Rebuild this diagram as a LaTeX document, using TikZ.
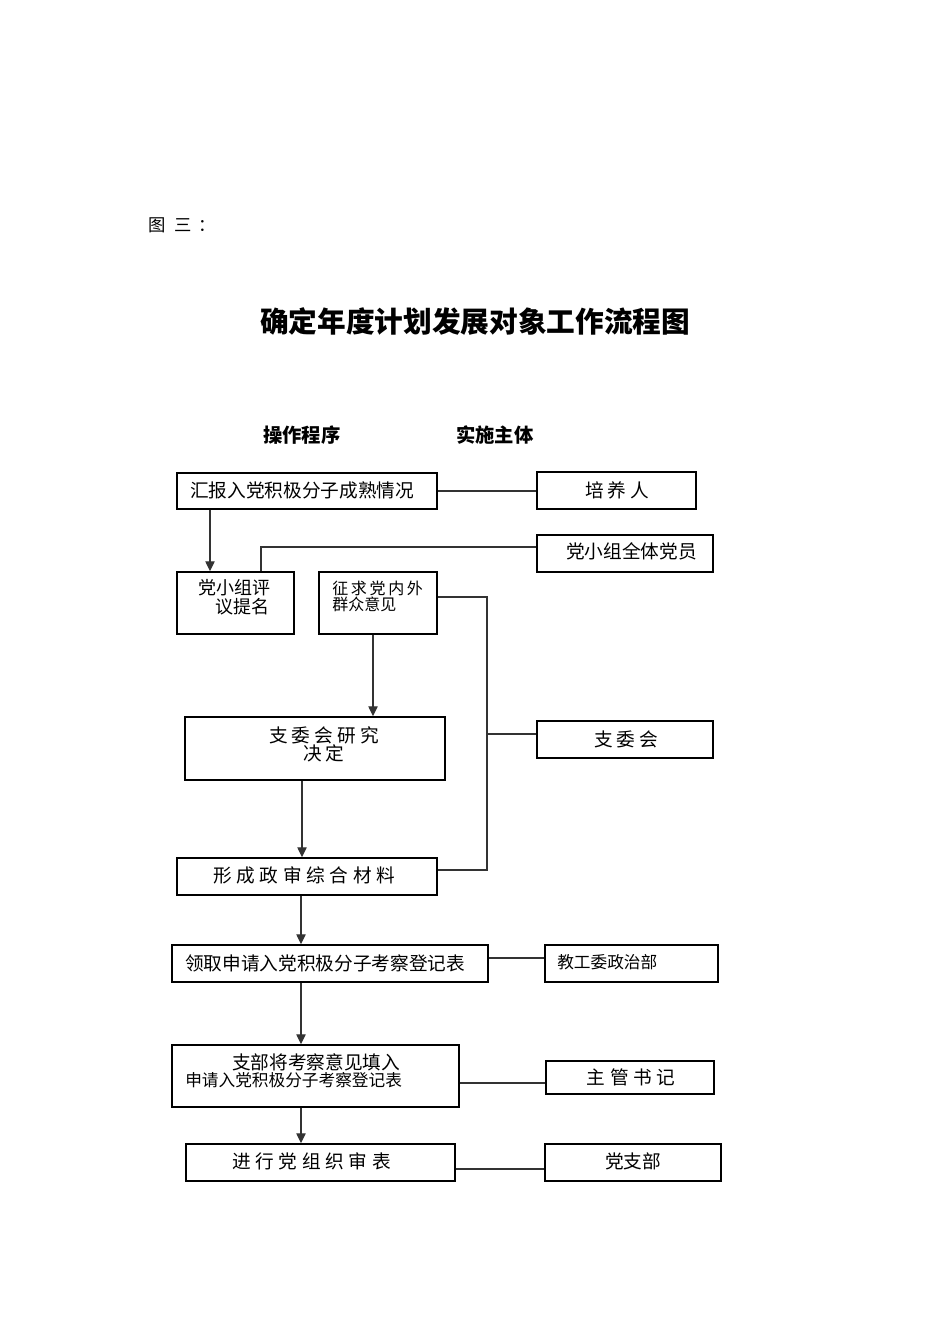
\documentclass[tikz,border=0pt]{standalone}
\usepackage{fontspec}
\setmainfont{Noto Sans CJK SC}
\usetikzlibrary{arrows.meta,fit}
\newcommand\gp{\hspace{3pt}}
\newcommand\gq{\hspace{3.5pt}}
\begin{document}
\begin{tikzpicture}[x=0.75pt,y=-0.75pt,
  box/.style={draw=black,line width=1.1pt,inner sep=0pt},
  txt/.style={inner sep=0pt,anchor=west,font=\fontsize{14}{16}\selectfont},
  ctxt/.style={txt,anchor=center},
  stxt/.style={txt,font=\fontsize{12.5}{14}\selectfont},
  ln/.style={draw=black!80,line width=1pt},
  arr/.style={ln,-{Triangle[length=7.5pt,width=7pt]}}]
\useasboundingbox (0,0) rectangle (950,1344);

% headings
\node[txt,font=\fontsize{13}{15}\selectfont] (fig) at (148,225) {图\hspace{6.5pt}三\hspace{5pt}：};
\node[ctxt,font=\fontsize{21.5}{24}\selectfont\bfseries] (title) at (475,322) {确定年度计划发展对象工作流程图};
\node[txt,font=\fontsize{14.5}{16}\selectfont\bfseries] (h1) at (263,435) {操作程序};
\node[txt,font=\fontsize{14.5}{16}\selectfont\bfseries] (h2) at (456,435) {实施主体};

% boxes
\node[box,fit={(177,473)(437,509)}] (b1) {};
\node[box,fit={(537,472)(696,509)}] (b2) {};
\node[box,fit={(537,535)(713,572)}] (b3) {};
\node[box,fit={(177,572)(294,634)}] (b4) {};
\node[box,fit={(319,572)(437,634)}] (b5) {};
\node[box,fit={(185,717)(445,780)}] (b6) {};
\node[box,fit={(537,721)(713,758)}] (b7) {};
\node[box,fit={(177,858)(437,895)}] (b8) {};
\node[box,fit={(172,945)(488,982)}] (b9) {};
\node[box,fit={(545,945)(718,982)}] (b10) {};
\node[box,fit={(172,1045)(459,1107)}] (b11) {};
\node[box,fit={(546,1061)(714,1094)}] (b12) {};
\node[box,fit={(186,1144)(455,1181)}] (b13) {};
\node[box,fit={(545,1144)(721,1181)}] (b14) {};

% texts
\node[txt] (t1) at (190,490) {汇报入党积极分子成熟情况};
\node[ctxt] (t2) at (617,490) {培\gp 养\gp 人};
\node[txt] (t3) at (566,551) {党小组全体党员};
\node[txt,font=\fontsize{13.5}{15}\selectfont] (t4a) at (198,588) {党小组评};
\node[txt,font=\fontsize{13.5}{15}\selectfont] (t4b) at (215,607) {议提名};
\node[txt,font=\fontsize{12}{14}\selectfont] (t5a) at (332,588) {征\hspace{2pt}求\hspace{2pt}党\hspace{2pt}内\hspace{2pt}外};
\node[txt,font=\fontsize{12}{14}\selectfont] (t5b) at (332,604) {群众意见};
\node[ctxt] (t6a) at (324,735) {支\gp 委\gp 会\gp 研\gp 究};
\node[ctxt] (t6b) at (324,753) {决\gp 定};
\node[ctxt] (t7) at (626,739) {支\gp 委\gp 会};
\node[txt] (t8) at (213,875) {形\gq 成\gq 政\gq 审\gq 综\gq 合\gq 材\gq 料};
\node[txt] (t9) at (185,963) {领取申请入党积极分子考察登记表};
\node[stxt] (t10) at (557,962) {教工委政治部};
\node[txt] (t11a) at (232,1062) {支部将考察意见填入};
\node[stxt] (t11b) at (185,1080) {申请入党积极分子考察登记表};
\node[ctxt] (t12) at (631,1077) {主\gq 管\gq 书\gq 记};
\node[txt] (t13) at (232,1161) {进\gq 行\gq 党\gq 组\gq 织\gq 审\gq 表};
\node[ctxt] (t14) at (633,1161) {党支部};

% helper coordinates
\coordinate (xa) at (210,0);
\coordinate (xb) at (261,0);
\coordinate (xc) at (373,0);
\coordinate (xd) at (487,0);
\coordinate (xe) at (302,0);
\coordinate (xf) at (301,0);
\coordinate (ya) at (0,597);
\coordinate (yb) at (0,870);
\coordinate (yc) at (0,734);
\coordinate (yd) at (0,958);
\coordinate (ye) at (0,1083);
\coordinate (yf) at (0,1169);
\coordinate (yg) at (0,547);
\coordinate (yh) at (0,491);

% connectors
\draw[ln] (b1.east|-yh) -- (b2.west|-yh);
\draw[arr] (xa|-b1.south) -- (xa|-b4.north);
\draw[ln] (b3.west|-yg) -- (xb|-yg) -- (xb|-b4.north);
\draw[ln] (b5.east|-ya) -- (xd|-ya) -- (xd|-yb) -- (b8.east|-yb);
\draw[ln] (xd|-yc) -- (b7.west|-yc);
\draw[arr] (xc|-b5.south) -- (xc|-b6.north);
\draw[arr] (xe|-b6.south) -- (xe|-b8.north);
\draw[arr] (xf|-b8.south) -- (xf|-b9.north);
\draw[ln] (b9.east|-yd) -- (b10.west|-yd);
\draw[arr] (xf|-b9.south) -- (xf|-b11.north);
\draw[ln] (b11.east|-ye) -- (b12.west|-ye);
\draw[arr] (xf|-b11.south) -- (xf|-b13.north);
\draw[ln] (b13.east|-yf) -- (b14.west|-yf);
\end{tikzpicture}
\end{document}
